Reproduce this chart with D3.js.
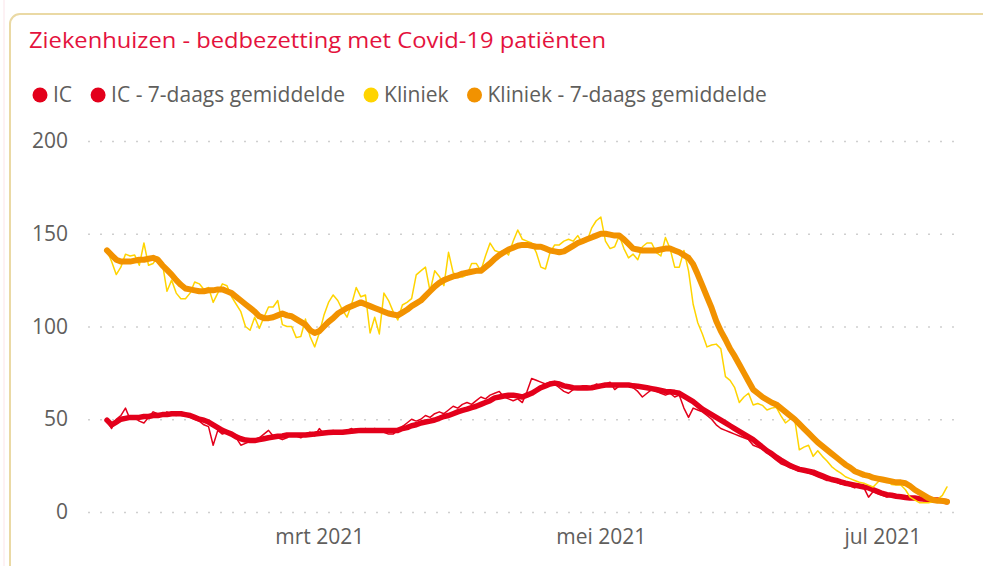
<!DOCTYPE html>
<html>
<head>
<meta charset="utf-8">
<script src="https://cdn.jsdelivr.net/npm/d3@7"></script>
<style>
  body { margin: 0; background: #fff; }
  svg text { font-family: 'Open Sans', sans-serif; }
</style>
</head>
<body>
<svg id="chart"></svg>
<script>
var w = 983;
var h = 566;

// data: daily values, 14 jan 2021 .. 15 jul 2021
var firstDay = '2021-01-14';
var lastDay = '2021-07-15';
var yTicks = [0, 50, 100, 150, 200];
var xTickDates = ['2021-03-01', '2021-05-01', '2021-07-01'];
var xTickLabels = ['mrt 2021', 'mei 2021', 'jul 2021'];
var seriesNames = ['IC', 'IC - 7-daags gemiddelde', 'Kliniek', 'Kliniek - 7-daags gemiddelde'];
var seriesColors = ['#e3001b', '#e3001b', '#ffd400', '#f29200'];
var title = 'Ziekenhuizen - bedbezetting met Covid-19 patiënten';

var icRaw = [49, 45, 50, 52, 56, 50, 51, 49, 48, 51,
  54, 53, 52, 54, 53, 52, 54, 53, 51, 50,
  49, 47, 46, 36, 44, 42, 43, 41, 40, 36,
  37, 38, 39, 40, 42, 44, 41, 40, 39, 40,
  42, 41, 40, 42, 43, 41, 45, 42, 43, 44,
  43, 42, 44, 45, 43, 44, 45, 44, 45, 44,
  43, 42, 42, 44, 46, 48, 50, 49, 50, 52,
  51, 53, 54, 53, 55, 57, 56, 58, 59, 58,
  60, 62, 61, 63, 64, 65, 62, 61, 60, 61,
  59, 65, 72, 71, 70, 69, 70, 69, 67, 65,
  64, 66, 67, 68, 68, 67, 69, 68, 69, 70,
  66, 68, 69, 68, 67, 65, 62, 64, 66, 65,
  64, 63, 64, 62, 63, 56, 51, 56, 55, 54,
  52, 50, 47, 45, 44, 43, 42, 41, 40, 39,
  36, 35, 34, 32, 30, 28, 26, 25, 24, 23,
  22, 22, 21, 20, 19, 18, 17, 17, 16, 15,
  15, 14, 13, 14, 13, 8, 11, 10, 9, 8,
  9, 8, 8, 7, 7, 7, 7, 6, 7, 6,
  6, 6, 5];

var icAvg = [49.5, 47, 48.5, 50, 50.5, 51, 51, 51, 51.5, 51.5,
  52, 52, 52.5, 52.5, 53, 53, 53, 52.5, 52, 51,
  50, 49.5, 48.5, 47, 45.5, 44, 43, 42, 40.5, 39.5,
  38.8, 38.5, 38.5, 39, 39.5, 40, 40.4, 40.8, 41, 41.5,
  41.5, 41.5, 41.5, 41.5, 41.8, 42, 42.3, 42.6, 42.8, 43,
  43, 43, 43.3, 43.5, 43.8, 44, 44, 44, 44, 44,
  44, 44, 44, 44, 45, 45.5, 46.5, 47, 48, 48.5,
  49, 49.6, 50.5, 51.5, 52, 53, 54, 54.8, 55.5, 56.3,
  57, 58, 59, 60, 61.5, 62, 62.5, 63, 63, 62.5,
  62, 63, 64, 65.5, 67, 68, 69, 69.5, 69, 68,
  67.5, 67, 66.8, 66.8, 66.8, 67, 67.5, 68, 68.5, 68.5,
  68.5, 68.5, 68.5, 68.5, 68, 67.8, 67.4, 67, 66.5, 66,
  65.5, 65, 64.8, 64.5, 64, 62.5, 61, 59.5, 57.5, 55.5,
  54, 52.5, 51, 49.5, 48, 46.5, 45, 43.5, 42, 40.5,
  39, 37, 35, 33, 31.5, 29.6, 28, 26.5, 25, 24,
  23, 22.5, 22, 21.5, 20.5, 19.5, 18.5, 17.5, 17, 16.2,
  15.5, 15, 14.5, 14, 13.5, 13, 12, 11, 10, 9.3,
  9, 8.5, 8.2, 7.8, 7.5, 7.5, 7.2, 7, 6.8, 6.5,
  6.5, 6, 5.5];

var kliniekRaw = [141, 135, 128, 132, 139, 138, 138.5, 133, 145, 133,
  134, 137.5, 134, 119, 125, 118, 115, 115, 118, 124,
  123, 120, 121, 113, 118, 123, 122, 116, 112, 108,
  100, 98, 105, 99, 105, 110.5, 110.5, 114, 101, 100,
  100, 94, 94.6, 104, 94.6, 89, 96.5, 106, 113, 117,
  114, 109, 105, 112, 121, 116, 117, 96.5, 105, 96,
  118, 114, 108, 103.5, 111.6, 113, 115, 127.8, 130, 132,
  119, 130, 127, 122, 140, 129, 127, 126.7, 127.8, 134,
  134, 130, 138, 145, 141, 140, 141, 138.5, 146, 152,
  147, 146, 145, 140, 132, 131, 140, 144, 144, 146,
  147, 146, 149, 145, 146, 153, 157, 159, 146, 142,
  143, 149, 142, 137, 139, 136, 143, 145, 145, 140,
  138, 148, 142, 132, 132, 141, 130, 112, 102, 96,
  89, 90, 90.5, 88, 73, 71, 67, 59, 62, 64,
  57.7, 58.5, 57.5, 55, 56, 56.5, 52, 48, 50, 50,
  33.5, 35, 36, 30, 33, 30, 27.5, 24.5, 22.5, 21,
  19, 18, 17, 16, 15.5, 14.5, 13.5, 16, 18.5, 17,
  14.8, 14.6, 14.6, 12, 8, 6.5, 5, 5, 5, 5.5,
  7, 9, 13.5];

var kliniekAvg = [141, 138.5, 136, 135, 135, 135, 135.5, 136, 136, 136.5,
  137, 136, 133, 130.5, 128, 125, 122.5, 120.5, 120, 119.5,
  119, 119, 119.5, 119.5, 120, 120, 119, 118, 116, 114,
  112, 110, 108, 105.5, 104.5, 104.5, 105, 106, 107, 106,
  105.5, 104, 102.5, 101, 98, 96.5, 97.5, 100, 102.5, 104.5,
  107, 108.5, 110, 111, 112, 113, 112, 111, 110, 109,
  108, 107, 106.5, 106, 107.5, 109, 111, 112.5, 114, 116.5,
  119, 121.5, 123.5, 125, 126, 127, 127.5, 128.5, 129, 129.5,
  130, 130, 132, 134, 136.5, 138.5, 140, 141.5, 142.5, 143.5,
  144, 144, 143.5, 143, 143, 142, 141, 140.5, 140, 140.5,
  142, 143.5, 145, 146, 147, 148, 149, 150, 150, 149.5,
  149, 149, 147, 144.5, 142, 141.5, 141, 141, 141, 141,
  141.5, 142, 142, 141, 140, 138.5, 137, 133.5, 128, 122,
  116, 110, 103, 97.5, 93, 88, 84, 79.5, 75, 70.5,
  66, 64, 62, 60.5, 59, 58, 56, 54, 52, 50,
  47.5, 45, 42.5, 40, 37.5, 35.5, 33.5, 31.5, 29.5, 27.5,
  25.5, 24, 22, 21, 20, 19.5, 18.5, 18, 17.5, 17,
  16.5, 16, 16, 15.5, 14, 12, 10.5, 9, 7.5, 6.5,
  6, 6, 5.5];

var parseDay = d3.utcParse('%Y-%m-%d');
var days = d3.utcDay.range(parseDay(firstDay), d3.utcDay.offset(parseDay(lastDay), 1));

var svg = d3.select('#chart').attr('width', w).attr('height', h);

// card frame
svg.append('line')
  .attr('x1', 4).attr('x2', 4).attr('y1', 0).attr('y2', h)
  .attr('stroke', '#fbe4e9').attr('stroke-width', 1);
svg.append('rect')
  .attr('x', 10).attr('y', 14)
  .attr('width', 1000).attr('height', 600)
  .attr('rx', 10)
  .attr('fill', 'none')
  .attr('stroke', '#ead9a4')
  .attr('stroke-width', 2);

// title
svg.append('text')
  .attr('x', 29)
  .attr('y', 48)
  .attr('font-size', '22px')
  .attr('fill', '#e4123d')
  .attr('textLength', 577)
  .attr('lengthAdjust', 'spacingAndGlyphs')
  .text(title);

// legend
var legend = svg.append('g').attr('transform', 'translate(0,95)');
var lx = 40;
seriesNames.forEach(function (name, i) {
  legend.append('circle')
    .attr('cx', lx).attr('cy', 0).attr('r', 7.5)
    .attr('fill', seriesColors[i]);
  var t = legend.append('text')
    .attr('x', lx + 13)
    .attr('y', 0)
    .attr('dy', '0.35em')
    .attr('font-size', '21px')
    .attr('fill', '#605e5c')
    .text(name);
  lx = lx + 13 + t.node().getComputedTextLength() + 26;
});

var x = d3.scaleUtc()
  .domain([parseDay(firstDay), parseDay(lastDay)])
  .range([107, 947]);

var y = d3.scaleLinear()
  .domain([0, 200])
  .range([512, 141]);

// grid
var grid = svg.append('g')
  .attr('transform', 'translate(88,0)')
  .call(d3.axisLeft(y).tickValues(yTicks).tickSize(-872).tickFormat(''));
grid.select('.domain').remove();
grid.selectAll('line')
  .attr('stroke', '#cfcfcf')
  .attr('stroke-width', 1.5)
  .attr('stroke-dasharray', '2,10');

// y labels
var yAxis = svg.append('g')
  .attr('transform', 'translate(68,0)')
  .call(d3.axisLeft(y).tickValues(yTicks).tickSize(0).tickPadding(0));
yAxis.select('.domain').remove();
yAxis.selectAll('text')
  .attr('font-size', '21px')
  .attr('fill', '#605e5c')
  .attr('font-family', 'Open Sans, sans-serif');

// x labels
var xAxis = svg.append('g')
  .attr('transform', 'translate(0,537)')
  .call(d3.axisBottom(x)
    .tickValues(xTickDates.map(parseDay))
    .tickSize(0)
    .tickFormat(function (d, i) { return xTickLabels[i]; }));
xAxis.select('.domain').remove();
xAxis.selectAll('text')
  .attr('y', 0)
  .attr('dy', '0.35em')
  .attr('font-size', '21px')
  .attr('fill', '#605e5c')
  .attr('font-family', 'Open Sans, sans-serif');

// lines
var line = d3.line()
  .x(function (d, i) { return x(days[i]); })
  .y(function (d) { return y(d); });

var series = [
  { values: icRaw, color: seriesColors[0], width: 1.5 },
  { values: icAvg, color: seriesColors[1], width: 5.5 },
  { values: kliniekRaw, color: seriesColors[2], width: 1.5 },
  { values: kliniekAvg, color: seriesColors[3], width: 6 }
];

svg.selectAll('path.series')
  .data(series)
  .enter()
  .append('path')
  .attr('class', 'series')
  .attr('d', function (d) { return line(d.values); })
  .attr('fill', 'none')
  .attr('stroke', function (d) { return d.color; })
  .attr('stroke-width', function (d) { return d.width; })
  .attr('stroke-linejoin', 'round')
  .attr('stroke-linecap', 'round');
</script>
</body>
</html>
